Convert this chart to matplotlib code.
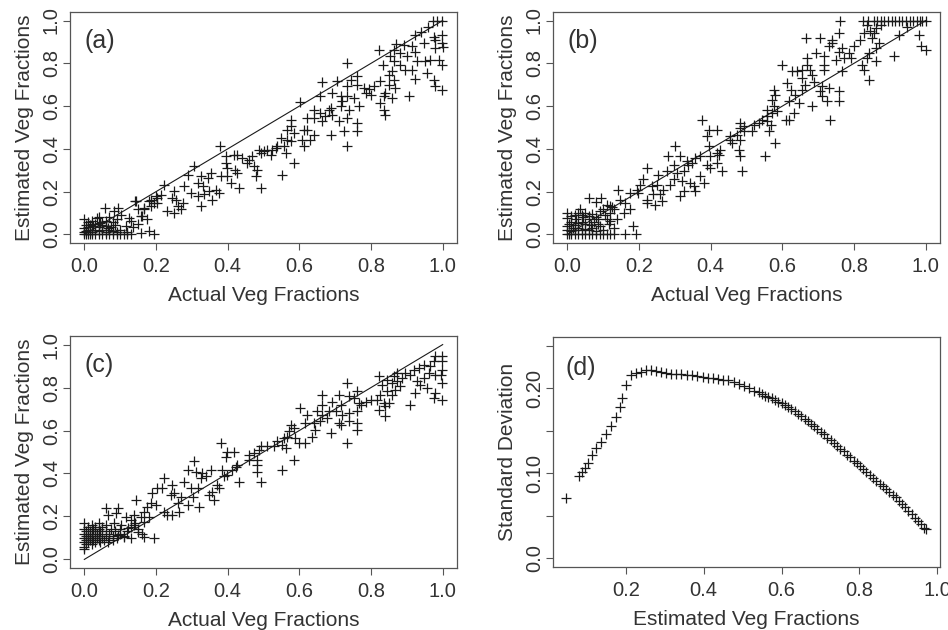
import matplotlib
matplotlib.use("Agg")
import matplotlib.pyplot as plt
import numpy as np

plt.rcParams['font.family'] = ['Liberation Sans', 'DejaVu Sans']

# (a) actual vs estimated vegetation fractions
a_points = [
    # low-fraction cluster
    (0.0, 0.0), (0.005, 0.0), (0.01, 0.0), (0.015, 0.0), (0.02, 0.0), (0.03, 0.0), (0.04, 0.0),
    (0.05, 0.0), (0.06, 0.0), (0.07, 0.0), (0.08, 0.0), (0.09, 0.0), (0.1, 0.0), (0.11, 0.0),
    (0.12, 0.0), (0.13, 0.0), (0.0, 0.01), (0.005, 0.015), (0.01, 0.02), (0.02, 0.01),
    (0.03, 0.02), (0.04, 0.015), (0.05, 0.02), (0.06, 0.01), (0.07, 0.02), (0.08, 0.015),
    (0.09, 0.01), (0.1, 0.02), (0.12, 0.01), (0.0, 0.03), (0.01, 0.035), (0.015, 0.045),
    (0.025, 0.04), (0.03, 0.05), (0.04, 0.035), (0.045, 0.055), (0.05, 0.045), (0.06, 0.04),
    (0.065, 0.03), (0.075, 0.035), (0.085, 0.045), (0.0, 0.07), (0.01, 0.06), (0.02, 0.065),
    (0.035, 0.075), (0.04, 0.08), (0.05, 0.06), (0.06, 0.065), (0.07, 0.08), (0.08, 0.06),
    (0.09, 0.07), (0.02, 0.05), (0.005, 0.045),
    (0.058, 0.124), (0.093, 0.124), (0.084, 0.109), (0.102, 0.093), (0.125, 0.078),
    (0.13, 0.062), (0.116, 0.039), (0.135, 0.033), (0.149, 0.047), (0.14, 0.155),
    (0.158, 0.086), (0.158, 0.008), (0.181, 0.016), (0.195, 0.0), (0.167, 0.117),
    (0.186, 0.132), (0.181, 0.155), (0.195, 0.148), (0.204, 0.171), (0.214, 0.186),
    (0.223, 0.233), (0.232, 0.109), (0.144, 0.156), (0.149, 0.117), (0.162, 0.086),
    (0.176, 0.07), (0.2, 0.179), (0.204, 0.148), (0.186, 0.163), (0.167, 0.124),
    # middle band
    (0.255, 0.163), (0.246, 0.171), (0.251, 0.202), (0.26, 0.132), (0.269, 0.117),
    (0.251, 0.101), (0.274, 0.148), (0.279, 0.226), (0.288, 0.28), (0.297, 0.194),
    (0.306, 0.319), (0.316, 0.241), (0.316, 0.179), (0.325, 0.272), (0.325, 0.132),
    (0.33, 0.226), (0.334, 0.187), (0.344, 0.264), (0.348, 0.202), (0.353, 0.288),
    (0.357, 0.163), (0.367, 0.21), (0.376, 0.194), (0.378, 0.412), (0.381, 0.272),
    (0.395, 0.365), (0.395, 0.334), (0.399, 0.311), (0.399, 0.272), (0.409, 0.241),
    (0.418, 0.37), (0.42, 0.303), (0.427, 0.373), (0.427, 0.288), (0.432, 0.218),
    (0.441, 0.358), (0.455, 0.334), (0.46, 0.35), (0.469, 0.365), (0.474, 0.319),
    (0.478, 0.272), (0.483, 0.303), (0.487, 0.397), (0.492, 0.381), (0.492, 0.218),
    (0.501, 0.389), (0.511, 0.397), (0.52, 0.373), (0.525, 0.397), (0.534, 0.404),
    (0.539, 0.412), (0.548, 0.451), (0.552, 0.28), (0.557, 0.412), (0.562, 0.381),
    (0.566, 0.49), (0.566, 0.443), (0.576, 0.537), (0.576, 0.505), (0.576, 0.435),
    (0.585, 0.474), (0.585, 0.334), (0.602, 0.619), (0.608, 0.443), (0.613, 0.49),
    (0.613, 0.412), (0.622, 0.544), (0.622, 0.49), (0.631, 0.443), (0.64, 0.583),
    (0.64, 0.544), (0.64, 0.467), (0.659, 0.645), (0.659, 0.568), (0.664, 0.711),
    (0.664, 0.529), (0.673, 0.552), (0.683, 0.583), (0.687, 0.591), (0.687, 0.467),
    (0.692, 0.661), (0.692, 0.56), (0.706, 0.716), (0.71, 0.529), (0.715, 0.645),
    (0.715, 0.599), (0.72, 0.622), (0.724, 0.482), (0.734, 0.801), (0.734, 0.692),
    (0.734, 0.645), (0.734, 0.544), (0.734, 0.412), (0.738, 0.583), (0.743, 0.723),
    (0.752, 0.638), (0.761, 0.742), (0.761, 0.7), (0.761, 0.521), (0.761, 0.482),
    (0.766, 0.599), (0.78, 0.684), (0.785, 0.661), (0.794, 0.68), (0.799, 0.653),
    (0.807, 0.692),
    # upper end
    (0.822, 0.863), (0.826, 0.718), (0.826, 0.614), (0.834, 0.793), (0.836, 0.645),
    (0.836, 0.583), (0.84, 0.661), (0.84, 0.56), (0.85, 0.746), (0.85, 0.7),
    (0.854, 0.832), (0.859, 0.762), (0.859, 0.638), (0.863, 0.863), (0.863, 0.809),
    (0.863, 0.721), (0.868, 0.684), (0.871, 0.89), (0.882, 0.848), (0.882, 0.793),
    (0.891, 0.886), (0.896, 0.77), (0.901, 0.832), (0.905, 0.645), (0.915, 0.879),
    (0.915, 0.77), (0.924, 0.933), (0.924, 0.851), (0.924, 0.728), (0.928, 0.809),
    (0.94, 0.946), (0.947, 0.894), (0.952, 0.809), (0.956, 0.754), (0.959, 0.972),
    (0.966, 0.816), (0.972, 1.0), (0.975, 0.922), (0.975, 0.723), (0.979, 0.91),
    (0.98, 0.871), (0.979, 0.692), (0.985, 1.0), (0.989, 0.816), (0.998, 1.0),
    (0.998, 0.933), (0.998, 0.894), (1.0, 0.876), (0.998, 0.793), (0.998, 0.677),
]

# (b) actual vs estimated vegetation fractions
b_points = [
    (0.0, 0.0), (0.005, 0.0), (0.01, 0.0), (0.02, 0.0), (0.03, 0.0), (0.04, 0.0), (0.05, 0.0),
    (0.06, 0.0), (0.07, 0.0), (0.08, 0.0), (0.09, 0.0), (0.1, 0.0), (0.11, 0.0), (0.12, 0.0),
    (0.13, 0.0), (0.0, 0.02), (0.01, 0.015), (0.015, 0.03), (0.02, 0.02), (0.03, 0.03),
    (0.04, 0.02), (0.05, 0.025), (0.06, 0.02), (0.07, 0.03), (0.08, 0.015), (0.1, 0.02),
    (0.0, 0.04), (0.005, 0.05), (0.01, 0.06), (0.02, 0.045), (0.025, 0.07), (0.03, 0.055),
    (0.04, 0.06), (0.045, 0.08), (0.05, 0.05), (0.06, 0.07), (0.065, 0.045), (0.075, 0.06),
    (0.085, 0.05), (0.09, 0.04), (0.0, 0.1), (0.0, 0.075), (0.01, 0.085), (0.02, 0.09),
    (0.03, 0.1), (0.035, 0.12), (0.04, 0.09), (0.05, 0.1), (0.06, 0.085), (0.07, 0.095),
    (0.08, 0.08), (0.09, 0.11), (0.1, 0.12), (0.11, 0.14), (0.12, 0.1), (0.125, 0.13),
    (0.13, 0.12), (0.08, 0.15), (0.095, 0.17), (0.06, 0.17), (0.11, 0.07), (0.115, 0.05),
    (0.105, 0.093), (0.086, 0.07), (0.119, 0.062), (0.138, 0.07), (0.129, 0.031),
    (0.161, 0.0), (0.184, 0.039), (0.193, 0.0), (0.119, 0.132), (0.142, 0.21),
    (0.147, 0.163), (0.157, 0.101), (0.161, 0.148), (0.175, 0.117), (0.175, 0.194),
    (0.194, 0.21), (0.198, 0.194), (0.203, 0.233), (0.212, 0.257), (0.222, 0.311),
    (0.222, 0.163), (0.222, 0.148), (0.236, 0.226), (0.24, 0.187), (0.245, 0.14),
    (0.25, 0.233), (0.254, 0.28), (0.259, 0.187), (0.264, 0.156), (0.268, 0.21),
    (0.278, 0.295), (0.282, 0.365), (0.287, 0.233), (0.297, 0.327), (0.297, 0.257),
    (0.301, 0.412), (0.306, 0.288), (0.315, 0.365), (0.315, 0.179), (0.32, 0.249),
    (0.325, 0.295), (0.325, 0.202), (0.334, 0.342), (0.338, 0.327), (0.343, 0.241),
    (0.348, 0.334), (0.353, 0.226), (0.357, 0.358), (0.357, 0.202), (0.371, 0.365),
    (0.371, 0.272), (0.375, 0.537), (0.381, 0.241), (0.39, 0.459), (0.39, 0.327),
    (0.394, 0.49), (0.394, 0.412), (0.399, 0.365), (0.399, 0.311), (0.418, 0.49),
    (0.418, 0.381), (0.418, 0.334), (0.422, 0.373), (0.427, 0.397), (0.431, 0.295),
    (0.455, 0.459), (0.455, 0.443), (0.459, 0.428), (0.473, 0.467), (0.478, 0.397),
    (0.483, 0.521), (0.483, 0.498), (0.483, 0.443), (0.483, 0.365), (0.487, 0.295),
    (0.492, 0.505), (0.492, 0.482), (0.515, 0.482), (0.52, 0.513), (0.534, 0.521),
    (0.543, 0.537), (0.553, 0.365), (0.557, 0.583), (0.557, 0.552), (0.557, 0.529),
    (0.562, 0.482), (0.567, 0.513), (0.571, 0.63), (0.571, 0.568), (0.576, 0.677),
    (0.576, 0.599), (0.58, 0.653), (0.58, 0.428), (0.585, 0.575), (0.599, 0.793),
    (0.609, 0.537), (0.613, 0.708), (0.618, 0.622), (0.618, 0.537), (0.623, 0.677),
    (0.627, 0.762), (0.632, 0.568), (0.636, 0.653), (0.641, 0.762), (0.646, 0.614),
    (0.655, 0.77), (0.655, 0.731), (0.655, 0.677), (0.664, 0.7), (0.665, 0.918),
    (0.669, 0.824), (0.669, 0.793), (0.678, 0.77), (0.683, 0.746), (0.683, 0.599),
    (0.688, 0.715), (0.693, 0.848), (0.706, 0.918), (0.706, 0.669), (0.711, 0.692),
    (0.711, 0.645), (0.716, 0.832), (0.716, 0.793), (0.716, 0.77), (0.725, 0.622),
    (0.73, 0.879), (0.73, 0.684), (0.734, 0.537), (0.739, 0.91), (0.739, 0.894),
    (0.749, 0.816), (0.758, 0.941), (0.758, 0.855), (0.758, 0.669), (0.758, 0.622),
    (0.762, 1.0), (0.767, 0.871), (0.767, 0.762), (0.772, 0.824), (0.786, 0.848),
    (0.791, 0.824), (0.8, 0.879), (0.818, 0.91), (0.823, 0.793), (0.827, 0.941),
    (0.827, 0.77), (0.837, 0.98), (0.837, 0.824), (0.842, 0.848), (0.842, 0.723),
    (0.846, 0.949), (0.851, 0.918), (0.855, 0.941), (0.86, 0.964), (0.86, 0.871),
    (0.86, 0.809), (0.869, 0.894), (0.874, 0.98), (0.911, 0.832), (0.925, 0.933),
    (0.949, 0.972), (0.981, 0.933), (0.986, 0.879), (1.0, 0.863),
    # saturated at 1.0
    (0.825, 1.0), (0.84, 1.0), (0.855, 1.0), (0.865, 1.0), (0.875, 1.0), (0.885, 1.0),
    (0.895, 1.0), (0.905, 1.0), (0.915, 1.0), (0.925, 1.0), (0.935, 1.0), (0.945, 1.0),
    (0.955, 1.0), (0.965, 1.0), (0.975, 1.0), (0.985, 1.0), (0.99, 1.0), (1.0, 1.0),
]

# (c) actual vs estimated vegetation fractions
c_points = [
    (0.0, 0.06), (0.0, 0.08), (0.0, 0.1), (0.0, 0.12), (0.0, 0.14), (0.0, 0.17),
    (0.005, 0.07), (0.005, 0.09), (0.005, 0.11), (0.005, 0.13), (0.01, 0.08), (0.01, 0.1),
    (0.01, 0.12), (0.01, 0.15), (0.015, 0.09), (0.015, 0.11), (0.015, 0.13), (0.02, 0.07),
    (0.02, 0.1), (0.02, 0.12), (0.02, 0.16), (0.025, 0.09), (0.025, 0.14), (0.03, 0.08),
    (0.03, 0.11), (0.03, 0.13), (0.03, 0.15), (0.035, 0.1), (0.035, 0.12), (0.04, 0.09),
    (0.04, 0.11), (0.04, 0.14), (0.04, 0.17), (0.045, 0.08), (0.045, 0.13), (0.05, 0.1),
    (0.05, 0.12), (0.05, 0.15), (0.055, 0.09), (0.06, 0.11), (0.06, 0.13), (0.065, 0.08),
    (0.07, 0.1), (0.07, 0.12), (0.075, 0.14), (0.08, 0.09), (0.08, 0.11), (0.085, 0.13),
    (0.09, 0.1), (0.1, 0.12), (0.11, 0.11), (0.12, 0.13), (0.13, 0.15), (0.14, 0.17),
    (0.15, 0.14), (0.16, 0.12), (0.1, 0.14), (0.06, 0.16), (0.0, 0.05),
    (0.093, 0.238), (0.088, 0.215), (0.06, 0.238), (0.065, 0.207), (0.084, 0.168),
    (0.102, 0.16), (0.121, 0.145), (0.139, 0.16), (0.167, 0.106), (0.195, 0.098),
    (0.149, 0.129), (0.13, 0.098), (0.111, 0.106), (0.093, 0.114), (0.116, 0.199),
    (0.13, 0.184), (0.139, 0.207), (0.144, 0.277), (0.158, 0.199), (0.167, 0.222),
    (0.167, 0.176), (0.176, 0.246), (0.181, 0.199), (0.186, 0.261), (0.19, 0.308),
    (0.2, 0.253), (0.204, 0.331), (0.218, 0.331), (0.223, 0.378), (0.223, 0.222),
    (0.232, 0.207), (0.241, 0.3), (0.246, 0.347), (0.246, 0.207), (0.251, 0.308),
    (0.26, 0.261), (0.265, 0.222), (0.269, 0.292), (0.279, 0.362), (0.288, 0.417),
    (0.288, 0.253), (0.297, 0.331), (0.302, 0.292), (0.306, 0.456), (0.311, 0.409),
    (0.316, 0.331), (0.32, 0.246), (0.325, 0.378), (0.329, 0.401), (0.339, 0.386),
    (0.348, 0.3), (0.353, 0.417), (0.357, 0.316), (0.362, 0.277), (0.371, 0.347),
    (0.376, 0.331), (0.381, 0.541), (0.385, 0.417), (0.39, 0.386), (0.395, 0.479),
    (0.399, 0.502), (0.399, 0.393), (0.413, 0.417), (0.418, 0.502), (0.422, 0.432),
    (0.427, 0.44), (0.432, 0.362), (0.46, 0.487), (0.46, 0.463), (0.473, 0.495),
    (0.483, 0.463), (0.483, 0.44), (0.483, 0.409), (0.487, 0.51), (0.492, 0.526),
    (0.492, 0.362), (0.511, 0.526), (0.529, 0.526), (0.538, 0.549), (0.552, 0.533),
    (0.552, 0.417), (0.557, 0.564), (0.562, 0.518), (0.566, 0.572), (0.571, 0.596),
    (0.576, 0.627), (0.585, 0.611), (0.585, 0.463), (0.589, 0.564), (0.599, 0.541),
    (0.603, 0.705), (0.617, 0.635), (0.617, 0.541), (0.622, 0.673), (0.636, 0.572),
    (0.64, 0.635), (0.645, 0.603), (0.65, 0.689), (0.659, 0.642), (0.664, 0.767),
    (0.664, 0.72), (0.664, 0.673), (0.678, 0.658), (0.683, 0.689), (0.687, 0.588),
    (0.692, 0.735), (0.701, 0.689), (0.71, 0.767), (0.71, 0.635), (0.715, 0.72),
    (0.715, 0.627), (0.72, 0.673), (0.734, 0.821), (0.734, 0.541), (0.738, 0.759),
    (0.738, 0.681), (0.738, 0.642), (0.752, 0.751), (0.761, 0.782), (0.761, 0.689),
    (0.761, 0.635), (0.761, 0.603), (0.766, 0.728), (0.771, 0.72), (0.785, 0.735),
    (0.799, 0.743), (0.817, 0.743), (0.822, 0.852), (0.822, 0.697), (0.826, 0.767),
    (0.831, 0.813), (0.836, 0.728), (0.84, 0.712), (0.84, 0.666), (0.845, 0.837),
    (0.845, 0.782), (0.85, 0.728), (0.859, 0.821), (0.859, 0.767), (0.863, 0.852),
    (0.868, 0.79), (0.873, 0.868), (0.873, 0.829), (0.882, 0.805), (0.887, 0.844),
    (0.896, 0.868), (0.91, 0.86), (0.91, 0.72), (0.919, 0.883), (0.924, 0.774),
    (0.928, 0.829), (0.933, 0.891), (0.938, 0.813), (0.947, 0.907), (0.947, 0.844),
    (0.956, 0.798), (0.961, 0.868), (0.966, 0.899), (0.975, 0.922), (0.975, 0.751),
    (0.979, 0.946), (0.98, 0.86), (0.98, 0.774), (0.994, 0.86), (0.998, 0.946),
    (0.998, 0.922), (0.998, 0.883), (0.998, 0.821), (0.998, 0.743),
]

# (d) standard deviation against estimated fraction
d_est = [
    0.047, 0.081, 0.088, 0.095, 0.103, 0.113, 0.124, 0.136, 0.148, 0.161, 0.174, 0.186,
    0.189, 0.200, 0.213, 0.226, 0.239, 0.252, 0.265, 0.278, 0.291, 0.304, 0.317, 0.330,
    0.343, 0.356, 0.370, 0.384, 0.398, 0.411, 0.424, 0.437, 0.450, 0.463, 0.477, 0.490,
    0.503, 0.516, 0.529, 0.542, 0.550, 0.558, 0.566, 0.575, 0.583, 0.592, 0.600, 0.608,
    0.617, 0.625, 0.634, 0.642, 0.650, 0.659, 0.667, 0.676, 0.684, 0.692, 0.701, 0.709,
    0.718, 0.726, 0.735, 0.743, 0.751, 0.760, 0.768, 0.777, 0.785, 0.793, 0.802, 0.810,
    0.818, 0.827, 0.835, 0.843, 0.852, 0.860, 0.868, 0.877, 0.885, 0.893, 0.902, 0.910,
    0.918, 0.926, 0.934, 0.942, 0.950, 0.958, 0.966, 0.970,
]
d_sd = [
    0.071, 0.097, 0.102, 0.106, 0.112, 0.121, 0.130, 0.137, 0.146, 0.155, 0.166, 0.178,
    0.188, 0.204, 0.215, 0.218, 0.219, 0.221, 0.221, 0.220, 0.219, 0.218, 0.217, 0.216,
    0.216, 0.215, 0.215, 0.214, 0.213, 0.212, 0.212, 0.211, 0.210, 0.209, 0.207, 0.205,
    0.202, 0.200, 0.197, 0.195, 0.193, 0.191, 0.190, 0.188, 0.186, 0.184, 0.182, 0.180,
    0.178, 0.175, 0.173, 0.170, 0.167, 0.164, 0.161, 0.158, 0.155, 0.152, 0.149, 0.146,
    0.142, 0.139, 0.136, 0.132, 0.129, 0.126, 0.122, 0.119, 0.115, 0.112, 0.108, 0.105,
    0.101, 0.098, 0.095, 0.091, 0.088, 0.085, 0.082, 0.078, 0.075, 0.072, 0.068, 0.064,
    0.060, 0.056, 0.052, 0.048, 0.044, 0.040, 0.036, 0.035,
]

frac_ticks = [0.0, 0.2, 0.4, 0.6, 0.8, 1.0]
frac_labels = ["0.0", "0.2", "0.4", "0.6", "0.8", "1.0"]
sd_ticks = [0.0, 0.05, 0.10, 0.15, 0.20, 0.25]
sd_labels = ["0.0", "", "0.10", "", "0.20", ""]

INK = "#1a1a1a"
FRAME = "#555555"
TXT = "#333333"
W, H = 948, 630


def box(left, top, right, bottom):
    # pixel box -> figure fraction rect
    return [left / W, 1 - bottom / H, (right - left) / W, (bottom - top) / H]


def style_axes(ax):
    for s in ax.spines.values():
        s.set_color(FRAME)
        s.set_linewidth(0.9)
    ax.tick_params(direction="out", length=5, width=0.8, color=FRAME,
                   labelsize=14.5, labelcolor=TXT)
    ax.tick_params(axis="x", pad=5)
    ax.tick_params(axis="y", pad=1.5)
    for lab in ax.get_yticklabels():
        lab.set_rotation(90)
        lab.set_va("center")


def scatter_panel(ax, pts, tag):
    xs = [p[0] for p in pts]
    ys = [p[1] for p in pts]
    ax.plot([0, 1], [0, 1], color=INK, lw=0.8)
    ax.plot(xs, ys, linestyle="none", marker="+", markersize=7,
            markeredgewidth=0.9, color=INK)
    ax.set_xlim(-0.04, 1.04)
    ax.set_ylim(-0.04, 1.04)
    ax.set_xticks(frac_ticks, frac_labels)
    ax.set_yticks(frac_ticks, frac_labels)
    ax.set_xlabel("Actual Veg Fractions", fontsize=15, color=TXT, labelpad=7)
    ax.set_ylabel("Estimated Veg Fractions", fontsize=15, color=TXT, labelpad=6)
    ax.text(0.0, 0.905, tag, fontsize=18, color=TXT, va="center", ha="left")
    style_axes(ax)


fig = plt.figure(figsize=(9.48, 6.3), dpi=100)

ax_a = fig.add_axes(box(70, 12, 457, 243))
scatter_panel(ax_a, a_points, "(a)")

ax_b = fig.add_axes(box(553, 12, 940, 243))
scatter_panel(ax_b, b_points, "(b)")

ax_c = fig.add_axes(box(70, 336, 457, 568))
scatter_panel(ax_c, c_points, "(c)")

ax_d = fig.add_axes(box(553, 337, 940, 567))
ax_d.plot(d_est, d_sd, linestyle="none", marker="+", markersize=7,
          markeredgewidth=0.9, color=INK)
ax_d.set_xlim(0.013, 1.007)
ax_d.set_ylim(-0.01, 0.26)
ax_d.set_xticks([0.2, 0.4, 0.6, 0.8, 1.0], ["0.2", "0.4", "0.6", "0.8", "1.0"])
ax_d.set_yticks(sd_ticks, sd_labels)
ax_d.set_xlabel("Estimated Veg Fractions", fontsize=15, color=TXT, labelpad=7)
ax_d.set_ylabel("Standard Deviation", fontsize=15, color=TXT, labelpad=6)
ax_d.text(0.044, 0.224, "(d)", fontsize=18, color=TXT, va="center", ha="left")
style_axes(ax_d)

fig.savefig("out.png", dpi=100, facecolor="white")
